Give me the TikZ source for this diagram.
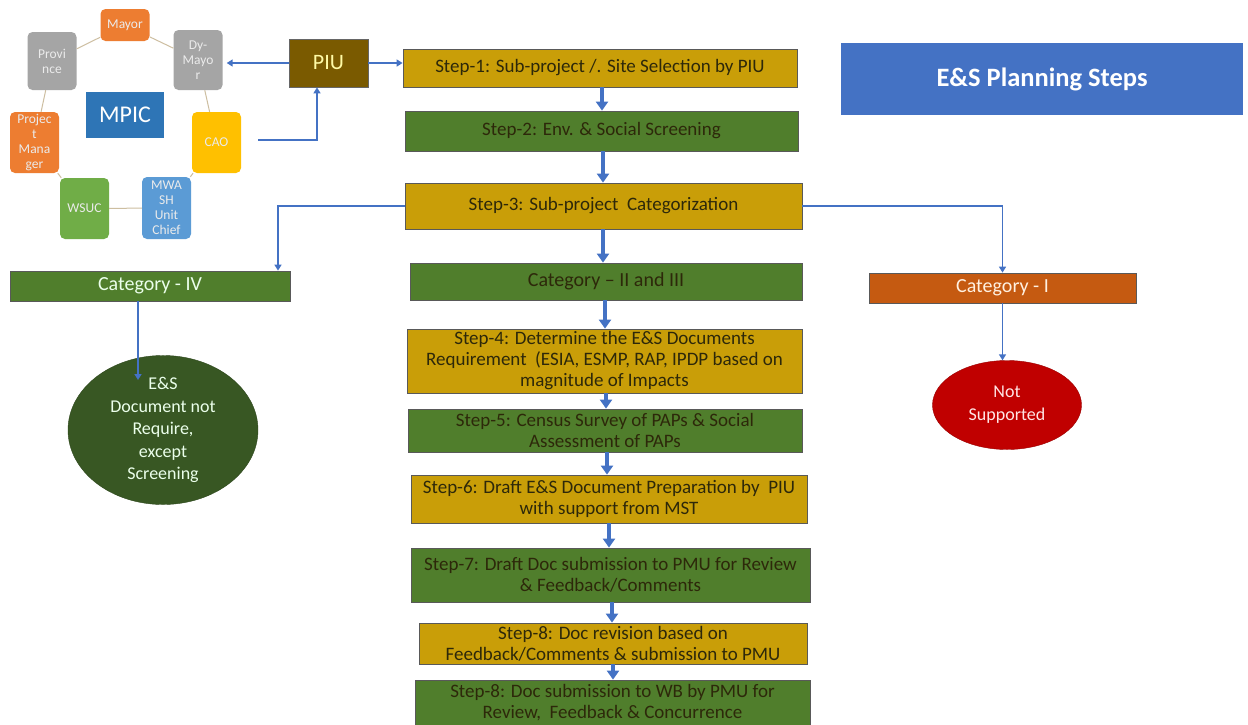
\documentclass[tikz,border=0pt]{standalone}
\usepackage{fontspec}
\setmainfont{Carlito}
\usetikzlibrary{arrows.meta,shapes.geometric,calc}
\definecolor{gold}{RGB}{201,158,8}
\definecolor{grn}{RGB}{80,126,44}
\definecolor{arr}{RGB}{68,114,196}
\definecolor{ttl}{RGB}{68,114,196}
\definecolor{orng}{RGB}{237,125,49}
\definecolor{cati}{RGB}{197,90,17}
\definecolor{gry}{RGB}{165,165,165}
\definecolor{yel}{RGB}{255,192,0}
\definecolor{lblu}{RGB}{91,155,213}
\definecolor{lgrn}{RGB}{112,173,71}
\definecolor{mblu}{RGB}{46,117,182}
\definecolor{piuc}{RGB}{122,90,0}
\definecolor{ring}{RGB}{205,190,160}
\definecolor{darktxt}{RGB}{45,40,10}
\definecolor{redc}{RGB}{192,0,0}
\definecolor{dkgrn}{RGB}{56,87,35}
\begin{document}
\begin{tikzpicture}[x=1pt,y=-1pt,
  box/.style={rectangle,draw=black!65,line width=0.8pt,inner sep=0pt,align=center,font=\fontsize{19}{21}\selectfont,text=darktxt},
  goldbox/.style={box,fill=gold},
  grnbox/.style={box,fill=grn},
  catbox/.style={box,font=\fontsize{20}{22}\selectfont},
  ring box/.style={rectangle,rounded corners=5pt,inner sep=0pt,minimum width=49pt,align=center,text=white!92!black,font=\fontsize{13.5}{15}\selectfont},
  bigarr/.style={draw=arr,line width=3.5pt,-{Triangle[width=12pt,length=9pt]}},
  thinarr/.style={draw=arr,line width=1.8pt,-{Triangle[width=7pt,length=6pt]}},
  ringline/.style={draw=ring,line width=1pt}]
\useasboundingbox (0,0) rectangle (1248,724);
\fill[white] (0,0) rectangle (1248,724);

% ---- cluster ----
\node[ring box,fill=orng,minimum height=32pt] (mayor) at (125,25) {Mayor};
\node[ring box,fill=gry,minimum height=58pt] (prov) at (52,61) {Provi\\nce};
\node[ring box,fill=gry,minimum height=60pt] (dym) at (198,60) {Dy-\\Mayo\\r};
\node[ring box,fill=orng,minimum height=61pt] (pm) at (34.5,142.5) {Projec\\t\\Mana\\ger};
\node[ring box,fill=yel,minimum height=61pt] (cao) at (216.5,142.5) {CAO};
\node[ring box,fill=lgrn,minimum height=61pt] (wsuc) at (84.5,208.5) {WSUC};
\node[ring box,fill=lblu,minimum height=62pt] (mwash) at (166.5,208) {MWA\\SH\\Unit\\Chief};
\node[rectangle,fill=mblu,minimum width=78pt,minimum height=46pt,text=white,font=\fontsize{24}{28}\selectfont] (mpic) at (125,115) {MPIC};
\draw[ringline] (mayor) -- (dym);
\draw[ringline] (mayor) -- (prov);
\draw[ringline] (prov) -- (pm);
\draw[ringline] (pm) -- (wsuc);
\draw[ringline] (wsuc) -- (mwash);
\draw[ringline] (mwash) -- (cao);
\draw[ringline] (cao) -- (dym);

% ---- PIU ----
\node[rectangle,fill=piuc,draw=black!60,line width=0.8pt,minimum width=79pt,minimum height=48pt,text=yellow!35!white,font=\fontsize{22}{26}\selectfont] (piu) at (328.5,63) {PIU};

% ---- title ----
\node[rectangle,fill=ttl,minimum width=402pt,minimum height=72pt,text=white,font=\fontsize{26.5}{30}\selectfont\bfseries] (title) at (1042,79) {E\&S Planning Steps};

% ---- steps ----
\node[goldbox,minimum width=394pt,minimum height=38pt] (s1) at (600,68) {Step-1: Sub-project /. Site Selection by PIU};
\node[grnbox,minimum width=393pt,minimum height=40pt] (s2) at (601.5,131) {Step-2: Env. \& Social Screening};
\node[goldbox,minimum width=397pt,minimum height=46pt] (s3) at (603.5,206) {Step-3: Sub-project\ \ Categorization};
\node[grnbox,catbox,minimum width=392pt,minimum height=37pt] (c23) at (606,281.5) {Category -- II and III};
\node[goldbox,minimum width=395pt,minimum height=64pt] (s4) at (604.5,361) {Step-4: Determine the E\&S Documents\\Requirement\ \ (ESIA, ESMP, RAP, IPDP based on\\magnitude of Impacts};
\node[grnbox,minimum width=394pt,minimum height=43pt] (s5) at (605,430.5) {Step-5: Census Survey of PAPs \& Social\\Assessment of PAPs};
\node[goldbox,minimum width=396pt,minimum height=48pt] (s6) at (609,499) {Step-6: Draft E\&S Document Preparation by\ \ PIU\\with support from MST};
\node[grnbox,minimum width=399pt,minimum height=54pt] (s7) at (610.5,575) {Step-7: Draft Doc submission to PMU for Review\\\& Feedback/Comments};
\node[goldbox,minimum width=388pt,minimum height=41pt] (s8) at (613,643.5) {Step-8: Doc revision based on\\Feedback/Comments \& submission to PMU};
\node[grnbox,minimum width=395pt,minimum height=46pt] (s9) at (612.5,703) {Step-8: Doc submission to WB by PMU for\\Review,\ \ Feedback \& Concurrence};

% ---- categories ----
\node[grnbox,catbox,minimum width=280pt,minimum height=30pt,text=green!8!white] (c4) at (150,286) {Category - IV};
\node[box,catbox,fill=cati,minimum width=267pt,minimum height=30pt,text=orange!12!white] (c1) at (1002.5,288) {Category - I};
\node[ellipse,fill=dkgrn,draw=dkgrn!80!black,minimum width=190pt,minimum height=105pt,inner sep=0pt,align=center,text=green!8!white,font=\fontsize{18}{22.5}\selectfont] (e4) at (163,430) {E\&S\\Document not\\Require,\\except\\Screening};
\node[ellipse,fill=redc,draw=redc!80!black,minimum width=149pt,minimum height=89pt,inner sep=0pt,align=center,text=red!10!white,font=\fontsize{18}{23}\selectfont] (e1) at (1007,405) {Not\\Supported};
\coordinate (e4in) at (138,380);

% ---- connectors ----
\draw[thinarr] (piu.west) -- ($(dym.east)+(4,3)$);
\draw[thinarr] (piu.east) -- (piu.east -| s1.west);
\draw[thinarr] ($(cao.east)+(17,-2.5)$) -| ($(piu.south)+(-11.5,0)$);
\draw[thinarr] (s3.west) -| ($(c4.north)+(128,0)$);
\draw[thinarr] (s3.east) -| (c1.north);
\draw[thinarr] ($(c4.south)+(-12,0)$) -- (e4in);
\draw[thinarr] (c1.south) -- (c1.south |- e1.north);

\draw[bigarr] ($(s1.south)+(2,0)$) -- ($(s1.south |- s2.north)+(2,0)$);
\draw[bigarr] ($(s2.south)+(1.5,0)$) -- ($(s2.south |- s3.north)+(1.5,0)$);
\draw[bigarr] ($(s3.south)+(-0.5,0)$) -- ($(s3.south |- c23.north)+(-0.5,0)$);
\draw[bigarr] ($(c23.south)+(-1,0)$) -- ($(c23.south |- s4.north)+(-1,0)$);
\draw[bigarr] ($(s4.south)+(1.5,0)$) -- ($(s4.south |- s5.north)+(1.5,0)$);
\draw[bigarr] ($(s5.south)+(2,0)$) -- ($(s5.south |- s6.north)+(2,0)$);
\draw[bigarr] (s6.south) -- (s6.south |- s7.north);
\draw[bigarr] ($(s7.south)+(1.5,0)$) -- ($(s7.south |- s8.north)+(1.5,0)$);
\draw[bigarr] (s8.south) -- (s8.south |- s9.north);
\end{tikzpicture}
\end{document}
